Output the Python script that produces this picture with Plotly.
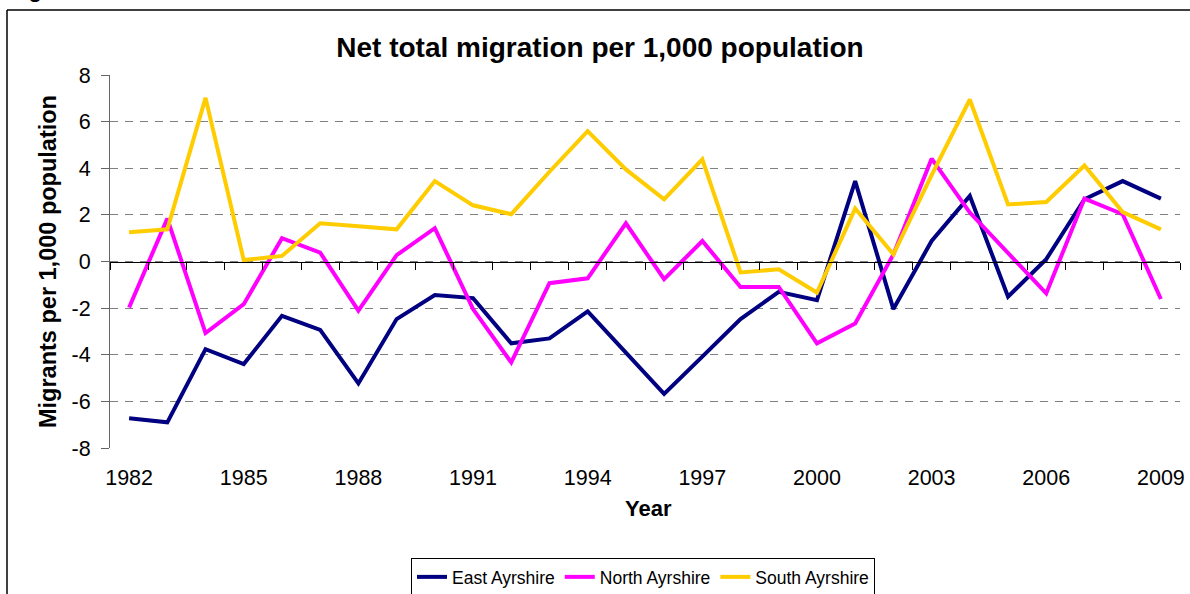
import plotly.graph_objects as go

years = list(range(1982, 2010))
east_ayrshire = [-6.72, -6.9, -3.76, -4.4, -2.33, -2.93, -5.23, -2.47, -1.44, -1.57,
                 -3.51, -3.3, -2.14, -3.9, -5.68, -4.08, -2.47, -1.3, -1.66, 3.45,
                 -2.04, 0.88, 2.81, -1.51, 0.1, 2.67, 3.45, 2.7]
north_ayrshire = [-1.97, 1.84, -3.07, -1.83, 1.0, 0.38, -2.11, 0.27, 1.43, -2.04,
                  -4.33, -0.93, -0.72, 1.64, -0.76, 0.88, -1.09, -1.09, -3.51, -2.66,
                  0.3, 4.41, 2.1, 0.35, -1.37, 2.7, 2.03, -1.61]
south_ayrshire = [1.25, 1.38, 7.02, 0.06, 0.24, 1.64, 1.51, 1.38, 3.45, 2.41,
                  2.03, 3.85, 5.59, 3.95, 2.67, 4.38, -0.47, -0.33, -1.33, 2.27,
                  0.31, 3.7, 6.95, 2.45, 2.55, 4.12, 2.12, 1.38]
series_names = ["East Ayrshire", "North Ayrshire", "South Ayrshire"]
series_colors = ["#000080", "#FF00FF", "#FFCC00"]
tick_years = years[::3]
y_ticks = list(range(-8, 9, 2))

FONT = "Arial, 'Liberation Sans', sans-serif"

fig = go.Figure()
for name, vals, col in zip(series_names, [east_ayrshire, north_ayrshire, south_ayrshire], series_colors):
    fig.add_trace(go.Scatter(x=years, y=vals, mode="lines", name=name,
                             line=dict(color=col, width=4)))

# dummy trace to activate the category-boundary axis at y = 0
fig.add_trace(go.Scatter(x=[years[0]], y=[0], xaxis="x2", mode="markers",
                         marker=dict(opacity=0), showlegend=False, hoverinfo="skip"))

boundaries = [years[0] - 0.5 + k for k in range(len(years) + 1)]
xr = [years[0] - 0.5, years[-1] + 0.5]

W, H = 1190, 594
L, R, T, B = 110, 10, 75, 146
pw, ph = W - L - R, H - T - B


def px(x):
    return (x - L) / pw


def py(y):
    return (H - B - y) / ph


fig.update_layout(
    width=W, height=H,
    margin=dict(l=L, r=R, t=T, b=B, autoexpand=False),
    paper_bgcolor="white", plot_bgcolor="white",
    font=dict(family=FONT, color="black"),
    title=dict(text="<b>Net total migration per 1,000 population</b>",
               font=dict(size=28, family=FONT, color="black"),
               xref="paper", x=px(600), xanchor="center",
               yref="container", y=1 - 47 / H, yanchor="middle"),
    xaxis=dict(range=xr, tickvals=tick_years, ticktext=[str(v) for v in tick_years],
               showgrid=False, zeroline=False, showline=False, ticks="",
               tickfont=dict(size=21.5, family=FONT, color="black"),
               ticklabelstandoff=14, automargin=False),
    xaxis2=dict(range=xr, overlaying="x", anchor="free", position=0.5, side="bottom",
                tickvals=boundaries, ticks="outside", ticklen=7, tickwidth=1,
                tickcolor="black", showline=True, linecolor="black", linewidth=1,
                showticklabels=False, showgrid=False, zeroline=False, automargin=False),
    yaxis=dict(range=[-8, 8], tickvals=y_ticks, ticktext=[str(v) for v in y_ticks],
               showgrid=True, gridcolor="#808080",
               griddash="8px,7px", gridwidth=1, zeroline=False,
               showline=True, linecolor="#666666", linewidth=1,
               ticks="outside", ticklen=8, tickcolor="#666666",
               tickfont=dict(size=21.5, family=FONT, color="black"),
               ticklabelstandoff=6, automargin=False),
    showlegend=True,
    legend=dict(orientation="h", x=px(643), xanchor="center", y=py(558), yanchor="top",
                bordercolor="black", borderwidth=1, bgcolor="white",
                font=dict(size=17.5, family=FONT, color="black"),
                itemwidth=30, tracegroupgap=0),
    annotations=[
        dict(text="<b>Migrants per 1,000 population</b>", textangle=-90,
             xref="paper", yref="paper", x=px(48), y=py(262),
             xanchor="center", yanchor="middle", showarrow=False,
             font=dict(size=23.5, family=FONT, color="black")),
        dict(text="<b>Year</b>", xref="paper", yref="paper", x=px(648), y=py(508),
             xanchor="center", yanchor="middle", showarrow=False,
             font=dict(size=22, family=FONT, color="black")),
        dict(text="<b>Figure</b>", xref="paper", yref="paper", x=px(7), y=py(3.5),
             xanchor="left", yanchor="bottom", showarrow=False,
             font=dict(size=22, family=FONT, color="black")),
    ],
    shapes=[
        dict(type="line", xref="paper", yref="paper", x0=px(7), x1=px(7),
             y0=py(10), y1=py(600), line=dict(color="black", width=1.5)),
        dict(type="line", xref="paper", yref="paper", x0=px(7), x1=px(1195),
             y0=py(10), y1=py(10), line=dict(color="black", width=1.5)),
    ],
)

fig.write_html("out.html", post_script="document.body.style.margin='0';",
               config={"displayModeBar": False})
